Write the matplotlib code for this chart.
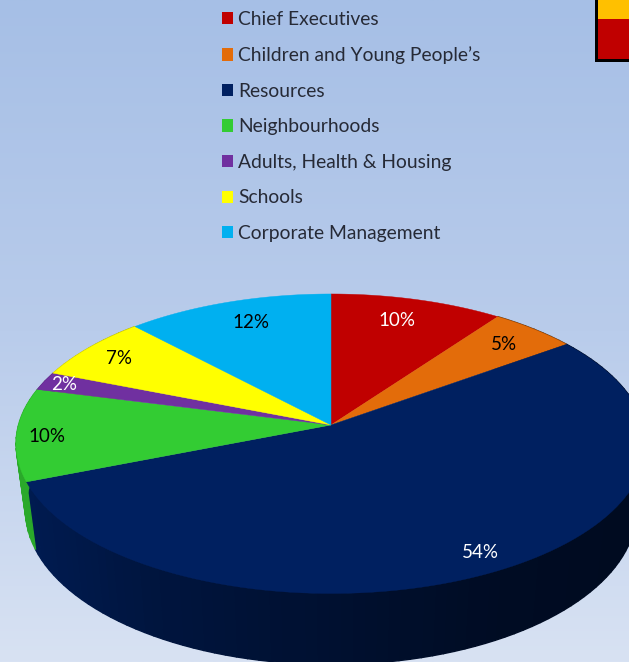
import numpy as np
import matplotlib
matplotlib.use('Agg')
import matplotlib.pyplot as plt
from matplotlib.patches import Polygon, Patch, Rectangle
from matplotlib.colors import LinearSegmentedColormap, to_rgb

plt.rcParams['font.family'] = ['Lato', 'DejaVu Sans']

# data
categories = ['Chief Executives', "Children and Young People\u2019s", 'Resources', 'Neighbourhoods',
              'Adults, Health & Housing', 'Schools', 'Corporate Management']
values = [10, 5, 54, 10, 2, 7, 12]
colors = ['#C00000', '#E36C0A', '#002060', '#33CC33', '#7030A0', '#FFFF00', '#00B0F0']
label_colors = ['white', 'black', 'white', 'black', 'white', 'black', 'black']
label_xy = [(397, 320), (504, 344), (480, 552), (47, 436), (64, 385), (119, 359), (251, 322)]

# pie geometry in picture pixels (perspective projected disc)
CX, CY = 331, 425
R, H, K = 312.5, 147.4, 0.125
DEPTH, SHRINK_X, SHRINK_Y = 66, 0.97, 1.03


def project(theta, sx=1.0, sy=1.0, drop=0):
    # theta runs clockwise from the top of the pie
    u, v = np.sin(theta), np.cos(theta)
    w = 1 + K * v
    return CX + sx * R * u / w, CY + drop - sy * H * v / w


fig = plt.figure(figsize=(6.29, 6.62), dpi=100)
ax = fig.add_axes([0, 0, 1, 1])
ax.set_xlim(0, 629)
ax.set_ylim(662, 0)
ax.axis('off')

# background gradient
bg = LinearSegmentedColormap.from_list('bg', ['#A6BFE6', '#B9CCEB', '#D8E2F3'])
ax.imshow(np.linspace(0, 1, 256).reshape(-1, 1), cmap=bg, extent=(0, 629, 662, 0), aspect='auto', zorder=0)

# corner of the box cut off top right
ax.add_patch(Rectangle((595, -3), 37, 65, fc='#000000', ec='none', zorder=1))
ax.add_patch(Rectangle((598, -3), 34, 22, fc='#FFC000', ec='none', zorder=2))
ax.add_patch(Rectangle((598, 19), 34, 40, fc='#C00000', ec='none', zorder=2))

edges = np.cumsum([0] + values) / sum(values) * 2 * np.pi

# side wall, only the front part shows
for i, c in enumerate(colors):
    a0, a1 = edges[i], edges[i + 1]
    if a1 < np.pi * 0.3 or a0 > np.pi * 1.7:
        continue
    ts = np.linspace(a0, a1, max(int((a1 - a0) * 30), 2))
    for t0, t1 in zip(ts[:-1], ts[1:]):
        xa, ya = project(t0)
        xb, yb = project(t1)
        xc, yc = project(t1, SHRINK_X, SHRINK_Y, DEPTH)
        xd, yd = project(t0, SHRINK_X, SHRINK_Y, DEPTH)
        # darker towards the right hand side
        shade = np.interp(0.5 * (xa + xb), [30, 150, 330, 500, 629], [0.83, 0.65, 0.5, 0.37, 0.33])
        col = np.array(to_rgb(c)) * shade
        ax.add_patch(Polygon([(xa, ya), (xb, yb), (xc, yc), (xd, yd)], fc=col, ec=col, lw=1.0, zorder=3))

# top face
for i, c in enumerate(colors):
    ts = np.linspace(edges[i], edges[i + 1], 120)
    xs, ys = project(ts)
    pts = [(CX, CY)] + list(zip(xs, ys))
    ax.add_patch(Polygon(pts, fc=c, ec=c, lw=0.3, zorder=4))

for v, (x, y), lc in zip(values, label_xy, label_colors):
    ax.text(x, y, f'{v}%', color=lc, fontsize=13.5, ha='center', va='center', zorder=5)

handles = [Patch(fc=c, ec='none', label=n) for c, n in zip(colors, categories)]
ax.legend(handles=handles, loc='upper left', bbox_to_anchor=(216 / 629, 1 - 5 / 662), frameon=False,
          fontsize=13.85, labelcolor='#262A36', handlelength=0.6, handleheight=0.6, handletextpad=0.25,
          labelspacing=0.965, borderpad=0.3, borderaxespad=0)

fig.savefig('out.png', dpi=100)
